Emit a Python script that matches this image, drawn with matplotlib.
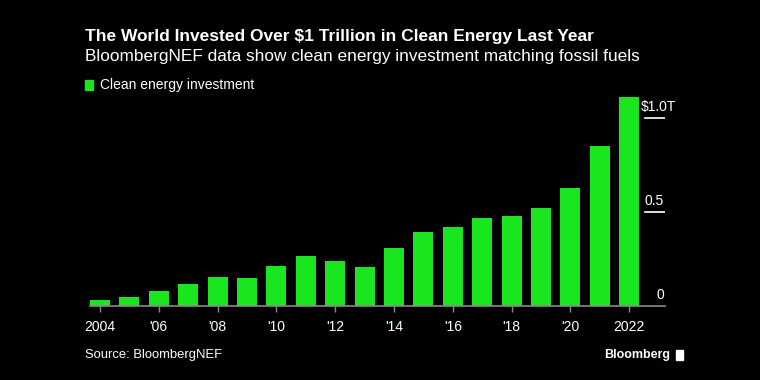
import matplotlib.pyplot as plt
from matplotlib.patches import Rectangle

# clean energy investment, $ trillion
years = list(range(2004, 2023))
investment = [0.030, 0.049, 0.080, 0.119, 0.154, 0.151, 0.214, 0.264, 0.239, 0.209,
              0.310, 0.395, 0.420, 0.470, 0.480, 0.520, 0.626, 0.851, 1.110]
tick_years = list(range(2004, 2023, 2))
tick_labels = ['2004', "'06", "'08", "'10", "'12", "'14", "'16", "'18", "'20", '2022']
y_ticks = [0, 0.5, 1.0]
y_labels = ['0', '0.5', '$1.0T']

green = '#19e61e'
bg = '#000000'
plt.rcParams['font.family'] = ['Liberation Sans', 'DejaVu Sans']

fig = plt.figure(figsize=(7.6, 3.8), dpi=100, facecolor=bg)
W, H = 760, 380

# axes placed in pixel terms
ax = fig.add_axes([90 / W, (H - 306) / H, (665 - 90) / W, (306 - 90) / H])
ax.set_facecolor(bg)
ax.bar(years, investment, width=0.68, color=green, zorder=2)
ax.set_xlim(2003.66, 2023.22)
ax.set_ylim(0, 1.149)

for s in ['top', 'right', 'left']:
    ax.spines[s].set_visible(False)
ax.spines['bottom'].set_color('#8a8a8a')
ax.spines['bottom'].set_linewidth(1.2)

ax.set_xticks(tick_years)
ax.set_xticklabels(tick_labels)
ax.tick_params(axis='x', colors='#8a8a8a', length=4, width=1, labelcolor='white',
               labelsize=10, pad=6)
ax.set_yticks([])

# right-side value labels with short rule under the non-zero ones
for v, lab in zip(y_ticks, y_labels):
    xpos = 1.019 if lab == '$1.0T' else 0.9985
    ax.text(xpos, v + 0.02, lab, transform=ax.get_yaxis_transform(),
            ha='right', va='bottom', color='white', fontsize=10)
    if v > 0:
        ax.axhline(v, xmin=1 - 20 / 575, xmax=1.0, color='white', lw=1.2, zorder=1)

fig.text(85 / W, 1 - 36 / H, 'The World Invested Over $1 Trillion in Clean Energy Last Year',
         color='white', fontsize=12.5, fontweight='bold', va='center', ha='left')
fig.text(85 / W, 1 - 57 / H, 'BloombergNEF data show clean energy investment matching fossil fuels',
         color='white', fontsize=12.4, va='center', ha='left')
fig.patches.append(Rectangle((85 / W, 1 - 90 / H), 8 / W, 10 / H, transform=fig.transFigure,
                             color=green, figure=fig))
fig.text(100 / W, 1 - 85 / H, 'Clean energy investment', color='white', fontsize=10,
         va='center', ha='left')
fig.text(85 / W, 1 - 355 / H, 'Source: BloombergNEF', color='white', fontsize=9.4,
         va='center', ha='left')
fig.text(670 / W, 1 - 355 / H, 'Bloomberg', color='white', fontsize=9.0, fontweight='bold',
         va='center', ha='right')
fig.patches.append(Rectangle((676 / W, 1 - 360 / H), 7 / W, 10 / H, transform=fig.transFigure,
                             color='white', figure=fig))

fig.savefig('out.png', dpi=100, facecolor=bg)
